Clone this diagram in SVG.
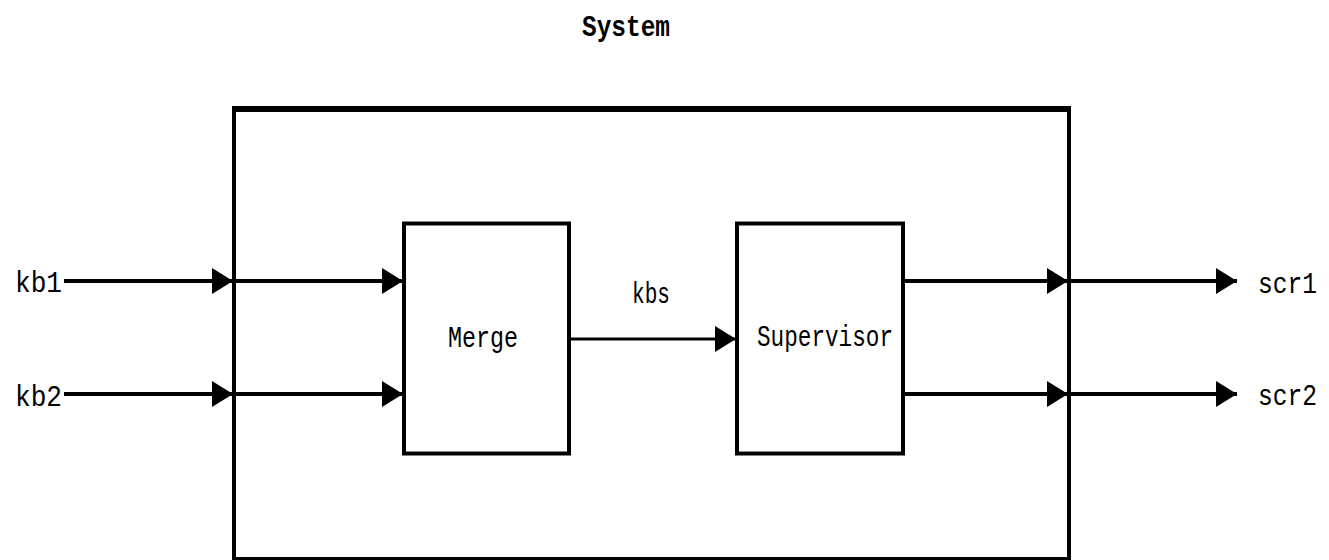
<svg xmlns="http://www.w3.org/2000/svg" width="1329" height="560" viewBox="0 0 1329 560">
<style>
.box{fill:none;stroke:#000;stroke-width:4}
.ln{stroke:#000;stroke-width:4;fill:none}
.t{font-family:"Liberation Mono","DejaVu Sans Mono",monospace;font-size:29px;fill:#000}
.title{font-family:"Liberation Mono","DejaVu Sans Mono",monospace;font-size:29px;font-weight:bold;fill:#000}
</style>
<defs>
<marker id="ah" markerUnits="userSpaceOnUse" markerWidth="22" markerHeight="26" viewBox="0 0 22 26" refX="21" refY="13" orient="auto">
<path d="M0,0 L21,13 L0,26 Z" fill="#000"/>
</marker>
</defs>
<rect width="1329" height="560" fill="#fff"/>
<text class="title" x="582" y="36" textLength="88" lengthAdjust="spacingAndGlyphs">System</text>
<g id="system">
<rect class="box" x="234" y="109" width="835" height="450"/>
<line x1="232" y1="109" x2="1071" y2="109" style="stroke:#000;stroke-width:6"/>
</g>
<g id="merge">
<rect class="box" x="404" y="223.5" width="165" height="230"/>
<text class="t" x="448" y="347" textLength="70" lengthAdjust="spacingAndGlyphs">Merge</text>
</g>
<g id="supervisor">
<rect class="box" x="737" y="223.5" width="166" height="230"/>
<text class="t" x="757" y="346" textLength="136" lengthAdjust="spacingAndGlyphs">Supervisor</text>
</g>
<g id="labels">
<text class="t" x="15" y="292" textLength="47" lengthAdjust="spacingAndGlyphs">kb1</text>
<text class="t" x="15" y="406" textLength="47" lengthAdjust="spacingAndGlyphs">kb2</text>
<text class="t" x="632" y="303" textLength="38" lengthAdjust="spacingAndGlyphs">kbs</text>
<text class="t" x="1258" y="293" textLength="59" lengthAdjust="spacingAndGlyphs">scr1</text>
<text class="t" x="1258" y="405" textLength="59" lengthAdjust="spacingAndGlyphs">scr2</text>
</g>
<g id="connectors">
<line class="ln" x1="64" y1="281" x2="233" y2="281" marker-end="url(#ah)"/>
<line class="ln" x1="234" y1="281" x2="403" y2="281" marker-end="url(#ah)"/>
<line class="ln" x1="64" y1="394" x2="233" y2="394" marker-end="url(#ah)"/>
<line class="ln" x1="234" y1="394" x2="403" y2="394" marker-end="url(#ah)"/>
<line class="ln" x1="569" y1="339" x2="736" y2="339" style="stroke-width:3" marker-end="url(#ah)"/>
<line class="ln" x1="903" y1="281" x2="1068" y2="281" marker-end="url(#ah)"/>
<line class="ln" x1="1069" y1="281" x2="1237" y2="281" marker-end="url(#ah)"/>
<line class="ln" x1="903" y1="394" x2="1068" y2="394" marker-end="url(#ah)"/>
<line class="ln" x1="1069" y1="394" x2="1237" y2="394" marker-end="url(#ah)"/>
</g>
</svg>
